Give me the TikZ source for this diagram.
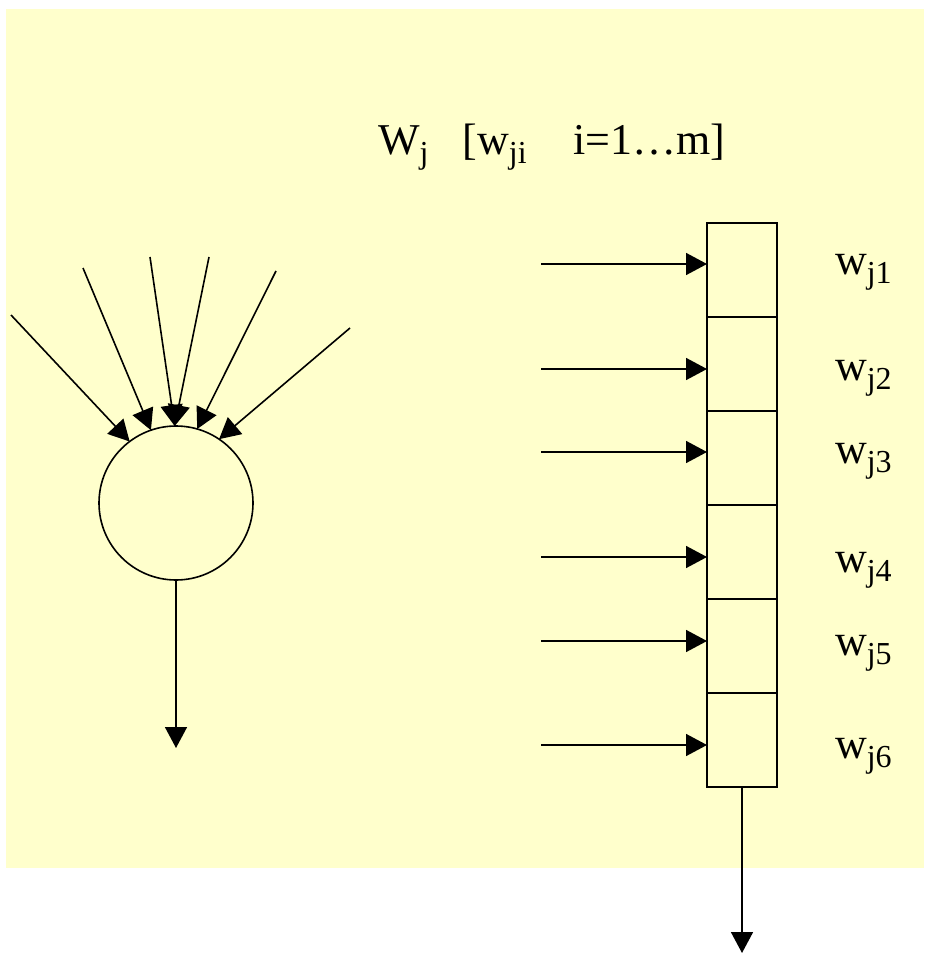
\documentclass[tikz,border=0pt]{standalone}
\usepackage{fontspec}
\setmainfont{Liberation Serif}
\usetikzlibrary{positioning,arrows.meta}
\definecolor{paleyellow}{HTML}{FFFFCC}
\newcommand{\wsub}[1]{\raisebox{-9pt}{\fontsize{32}{32}\selectfont #1}}

\begin{document}
\begin{tikzpicture}[x=1pt, y=-1pt, line width=1.6pt, >={Triangle[length=21pt,width=22pt]}, every node/.style={font=\fontsize{44}{50}\selectfont, inner sep=0pt, outer sep=0pt}, cell/.style={draw, rectangle, minimum width=70pt, minimum height=94pt}]
\useasboundingbox (0,0) rectangle (924,957);
\fill[paleyellow] (6,9) rectangle (924,868);
\node (title) [anchor=base west] at (378,155) {W\wsub{j}\hspace{34pt}[w\wsub{ji}\hspace{47pt}i=1\ldots m]};
\node (neuron) [draw, circle, minimum size=154pt] at (176,503) {};
\coordinate (a1) at (11,315);
\coordinate (a2) at (83,268);
\coordinate (a3) at (150,257);
\coordinate (a4) at (209,257);
\coordinate (a5) at (276,271);
\coordinate (a6) at (350,328);
\coordinate (nout) at (176,748);
\draw[->] (a1) -- (neuron.127);
\draw[->] (a2) -- (neuron.109);
\draw[->] (a3) -- (neuron.91);
\draw[->] (a4) -- (neuron.91);
\draw[->] (a5) -- (neuron.74);
\draw[->] (a6) -- (neuron.56);
\draw[->] (neuron) -- (nout);
\node (c1) [cell] at (742,270) {};
\node (c2) [cell, below=0pt of c1] {};
\node (c3) [cell, below=0pt of c2] {};
\node (c4) [cell, below=0pt of c3] {};
\node (c5) [cell, below=0pt of c4] {};
\node (c6) [cell, below=0pt of c5] {};
\coordinate (x1) at (541,264);
\coordinate (x2) at (541,369);
\coordinate (x3) at (541,452);
\coordinate (x4) at (541,557);
\coordinate (x5) at (541,641);
\coordinate (x6) at (541,745);
\draw[->] (x1) -- (x1 -| c1.west);
\draw[->] (x2) -- (x2 -| c2.west);
\draw[->] (x3) -- (x3 -| c3.west);
\draw[->] (x4) -- (x4 -| c4.west);
\draw[->] (x5) -- (x5 -| c5.west);
\draw[->] (x6) -- (x6 -| c6.west);
\node (w1) [anchor=base west] at (835,275) {w\wsub{j1}};
\node (w2) [anchor=base west] at (835,380) {w\wsub{j2}};
\node (w3) [anchor=base west] at (835,463) {w\wsub{j3}};
\node (w4) [anchor=base west] at (835,572) {w\wsub{j4}};
\node (w5) [anchor=base west] at (835,655) {w\wsub{j5}};
\node (w6) [anchor=base west] at (835,758) {w\wsub{j6}};
\coordinate (yout) at (742,953);
\draw[->] (c6) -- (yout);
\end{tikzpicture}
\end{document}
